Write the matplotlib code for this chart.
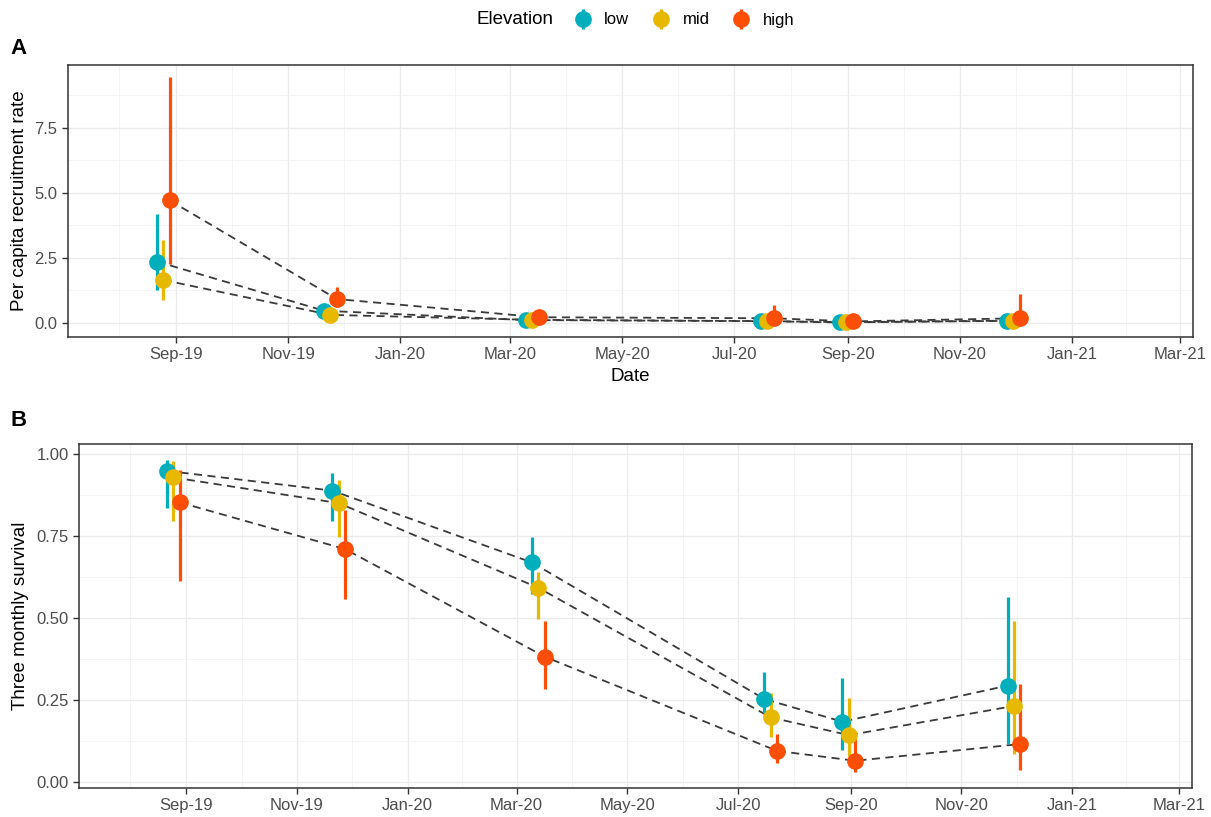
import matplotlib
matplotlib.use('Agg')
import matplotlib.pyplot as plt
import matplotlib.dates as mdates
from matplotlib.lines import Line2D
from matplotlib.legend_handler import HandlerTuple
import numpy as np

plt.rcParams['font.family'] = ['Liberation Sans', 'DejaVu Sans']

# sampling dates (centre of each dodged group)
dates = ['2019-08-25', '2019-11-24', '2020-03-13', '2020-07-19', '2020-08-31', '2020-11-30']
levels = ['low', 'mid', 'high']
colors = {'low': '#00AFBB', 'mid': '#E7B800', 'high': '#FC4E07'}

# Panel A: per capita recruitment rate (estimate, lower, upper)
recruit = {
    'low':  [2.36, 0.47, 0.11, 0.07, 0.02, 0.08],
    'mid':  [1.65, 0.31, 0.12, 0.07, 0.03, 0.09],
    'high': [4.71, 0.92, 0.22, 0.18, 0.06, 0.18],
}
recruit_lo = {
    'low':  [1.27, 0.35, 0.06, 0.03, 0.00, 0.03],
    'mid':  [0.88, 0.20, 0.06, 0.03, 0.00, 0.03],
    'high': [2.27, 0.60, 0.10, 0.06, 0.01, 0.06],
}
recruit_hi = {
    'low':  [4.19, 0.62, 0.20, 0.15, 0.06, 0.18],
    'mid':  [3.19, 0.45, 0.22, 0.16, 0.08, 0.20],
    'high': [9.47, 1.37, 0.40, 0.69, 0.20, 1.11],
}

# Panel B: three monthly survival
surv = {
    'low':  [0.948, 0.888, 0.669, 0.253, 0.184, 0.294],
    'mid':  [0.928, 0.850, 0.592, 0.197, 0.143, 0.232],
    'high': [0.852, 0.710, 0.382, 0.095, 0.065, 0.116],
}
surv_lo = {
    'low':  [0.835, 0.794, 0.573, 0.209, 0.098, 0.116],
    'mid':  [0.796, 0.748, 0.498, 0.138, 0.080, 0.085],
    'high': [0.614, 0.558, 0.285, 0.057, 0.031, 0.037],
}
surv_hi = {
    'low':  [0.980, 0.942, 0.748, 0.334, 0.318, 0.565],
    'mid':  [0.977, 0.919, 0.641, 0.270, 0.255, 0.492],
    'high': [0.950, 0.829, 0.491, 0.148, 0.133, 0.299],
}

dodge = {'low': -3.5, 'mid': 0.0, 'high': 3.5}
xnum = mdates.datestr2num(dates)
xmin, xmax = mdates.datestr2num(['2019-07-04', '2021-03-08'])


def style_axis(ax, ylim, yticks, ylabels):
    ax.set_yticks(yticks)
    ax.set_yticklabels(ylabels)
    step = yticks[1] - yticks[0]
    ax.set_yticks([t + step / 2 for t in yticks], minor=True)
    ax.xaxis.set_major_locator(mdates.MonthLocator(bymonth=[1, 3, 5, 7, 9, 11]))
    ax.xaxis.set_major_formatter(mdates.DateFormatter('%b-%y'))
    majors = mdates.datestr2num(['2019-07-01', '2019-09-01', '2019-11-01', '2020-01-01', '2020-03-01',
                                 '2020-05-01', '2020-07-01', '2020-09-01', '2020-11-01', '2021-01-01', '2021-03-01'])
    ax.set_xticks((majors[:-1] + majors[1:]) / 2, minor=True)
    # limits last, so the tick setters can't widen them
    ax.set_xlim(xmin, xmax)
    ax.set_ylim(*ylim)
    ax.grid(True, which='major', color='#EBEBEB', lw=1.0)
    ax.grid(True, which='minor', color='#F2F2F2', lw=0.6)
    ax.set_axisbelow(True)
    ax.tick_params(which='major', length=4, width=1, color='#333333', labelcolor='#4D4D4D', labelsize=12)
    ax.tick_params(which='minor', length=0)
    for s in ax.spines.values():
        s.set_color('#333333')
        s.set_linewidth(1.1)


def draw(ax, est, lo, hi):
    for lev in levels:
        x = xnum + dodge[lev]
        ax.plot(x, est[lev], ls=(0, (4.5, 3)), color='#3A3A3A', lw=1.3, zorder=2)
    for lev in levels:
        x = xnum + dodge[lev]
        ax.vlines(x, lo[lev], hi[lev], color=colors[lev], lw=2.3, zorder=3)
        ax.plot(x, est[lev], 'o', color=colors[lev], ms=11, mec=colors[lev], zorder=4)


fig = plt.figure(figsize=(12.11, 8.17), dpi=100)
axA = fig.add_axes([68 / 1211, 1 - 337 / 817, 1125 / 1211, 272 / 817])
axB = fig.add_axes([79 / 1211, 1 - 788 / 817, 1113 / 1211, 344 / 817])

draw(axA, recruit, recruit_lo, recruit_hi)
style_axis(axA, (-0.54, 9.92), [0, 2.5, 5.0, 7.5], ['0.0', '2.5', '5.0', '7.5'])
axA.set_ylabel('Per capita recruitment rate', fontsize=13.5, labelpad=5)
axA.set_xlabel('Date', fontsize=13.5, labelpad=4)

draw(axB, surv, surv_lo, surv_hi)
style_axis(axB, (-0.018, 1.03), [0, 0.25, 0.5, 0.75, 1.0], ['0.00', '0.25', '0.50', '0.75', '1.00'])
axB.set_ylabel('Three monthly survival', fontsize=13.5, labelpad=5)

fig.text(10 / 1211, 1 - 48 / 817, 'A', fontsize=16, fontweight='bold', va='center')
fig.text(10 / 1211, 1 - 420 / 817, 'B', fontsize=16, fontweight='bold', va='center')

# legend
fig.text(554 / 1211, 1 - 20 / 817, 'Elevation', ha='right', va='center', fontsize=13.5)
handles = []
for lev in levels:
    bar = Line2D([], [], marker='|', ms=15, mew=2.3, color=colors[lev], ls='none')
    pt = Line2D([], [], marker='o', ms=11, color=colors[lev], ls='none')
    handles.append((bar, pt))
fig.legend(handles, levels, handler_map={tuple: HandlerTuple(ndivide=1)},
           loc='center left', bbox_to_anchor=(566 / 1211, 1 - 20 / 817), ncol=3, frameon=False,
           fontsize=12, handlelength=1.2, handletextpad=0.7, columnspacing=1.3, borderaxespad=0)

fig.savefig('out.png', dpi=100)
